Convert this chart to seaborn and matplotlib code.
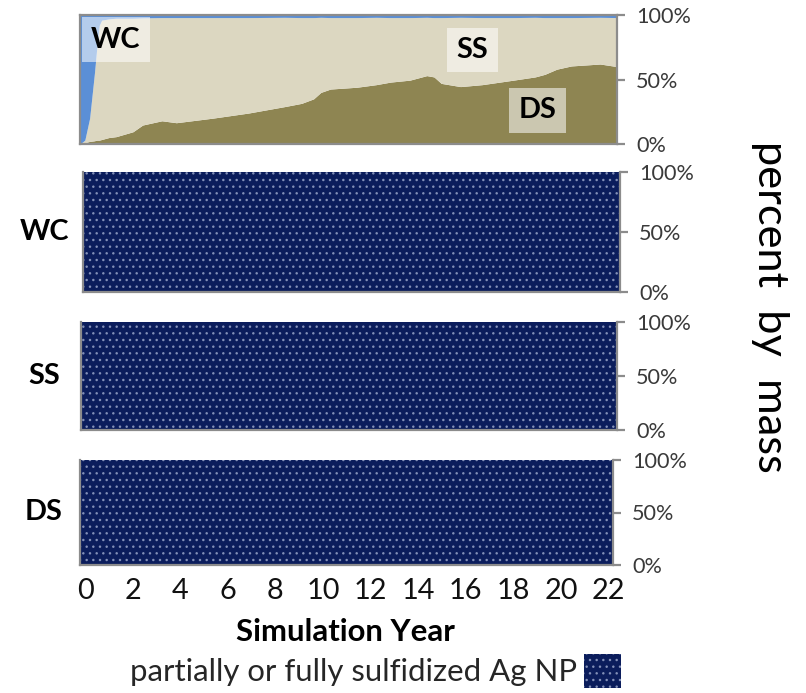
import matplotlib
matplotlib.use("Agg")
import matplotlib.pyplot as plt
from matplotlib.patches import Patch
from matplotlib.transforms import ScaledTranslation
import seaborn as sns

# Compartment mass fractions (percent) of Ag over the simulation
years_top = [0, 0.2, 0.4, 0.6, 0.7, 0.8, 0.9, 1.2, 1.5, 2.2,
             2.6, 3.4, 4.0, 5.5, 7.0, 8.5, 9.2, 9.7, 10.0, 10.4,
             11.5, 12.3, 12.9, 13.7, 14.4, 14.7, 15.0, 15.8, 16.7, 18.0,
             18.9, 19.3, 19.8, 20.4, 21.6, 22.3]
ds_pct = [0, 1, 2, 2.5, 3, 3, 3.5, 5, 5.7, 9.5,
          14.7, 18, 16.5, 20, 24, 29, 31.5, 35, 40, 42.6,
          44, 46, 48, 49.5, 53, 52, 47, 44.5, 46, 49.5,
          52, 54, 58, 60.5, 62, 60]
wc_pct = [100, 97, 80, 45, 25, 8, 4, 3, 2.5, 2.5,
          2.2, 2, 2, 2, 2, 1.8, 2, 2, 1.8, 2,
          2, 1.8, 2, 2, 1.8, 2, 2, 1.8, 2, 2,
          1.8, 2, 2, 2, 1.8, 2]
ss_pct = [100 - d - w for d, w in zip(ds_pct, wc_pct)]

# Speciation within each compartment: all sulfidized
compartments = ["WC", "SS", "DS"]
years_species = [0, 22.35]
sulfidized_pct = [100, 100]
legend_label = "partially or fully sulfidized Ag NP"

xticks = list(range(0, 23, 2))
yticks = [0, 50, 100]
ytick_labels = ["0%", "50%", "100%"]

sns.set_theme(style="white")
plt.rcParams["font.family"] = ["Lato", "DejaVu Sans"]
plt.rcParams["hatch.linewidth"] = 1.0

W, H, DPI = 806, 693, 80
fig = plt.figure(figsize=(W / DPI, H / DPI), dpi=DPI)


def px_axes(x0, y0, x1, y1):
    return fig.add_axes([x0 / W, 1 - y1 / H, (x1 - x0) / W, (y1 - y0) / H])


c_wc, c_ss, c_ds = "#5b8fd6", "#dcd7c1", "#8e8552"
navy, dot = "#0b1d5c", "#8390b8"
spine_c = "#8c8c8c"


def style_right_axis(ax, sides):
    ax.set_ylim(0, 100)
    ax.yaxis.tick_right()
    ax.set_yticks(yticks)
    ax.set_yticklabels(ytick_labels, fontsize=19.5, color="#3a3a3a")
    ax.tick_params(axis="y", direction="out", length=7, width=2,
                   color=spine_c, pad=10)
    for s, sp in ax.spines.items():
        sp.set_visible(s in sides)
        sp.set_color(spine_c)
        sp.set_linewidth(2)


# Top panel: distribution of mass among compartments
ax0 = px_axes(80, 15, 617, 144)
top_ss = [d + s for d, s in zip(ds_pct, ss_pct)]
ax0.fill_between(years_top, 0, ds_pct, color=c_ds, lw=0)
ax0.fill_between(years_top, ds_pct, top_ss, color=c_ss, lw=0)
ax0.fill_between(years_top, top_ss, 100, color=c_wc, lw=0)
ax0.set_xlim(0, 22.3)
ax0.set_xticks([])
style_right_axis(ax0, {"left", "right", "top", "bottom"})
box = dict(boxstyle="square,pad=0.32", fc="white", ec="none", alpha=0.55)
ax0.text(0.45, 81, "WC", fontsize=26, fontweight="bold", color="black",
         va="center", ha="left", bbox=box)
ax0.text(16.3, 73, "SS", fontsize=26, fontweight="bold", color="black",
         va="center", ha="center", bbox=box)
ax0.text(19.0, 26, "DS", fontsize=26, fontweight="bold", color="black",
         va="center", ha="center", bbox=box)

# Lower panels: speciation within each compartment
boxes = [(83, 172, 620, 292), (81, 322, 617, 430), (80, 460, 613, 565)]
axes = []
for name, (x0, y0, x1, y1) in zip(compartments, boxes):
    ax = px_axes(x0, y0, x1, y1)
    ax.fill_between(years_species, 0, sulfidized_pct, facecolor=navy,
                    edgecolor=dot, hatch="..", lw=0)
    ax.set_xlim(0, 22.4)
    style_right_axis(ax, {"left", "right", "bottom"})
    ax.set_xticks(xticks)
    ax.set_xticklabels([])
    ax.tick_params(axis="x", length=0)
    fig.text(44 / W, 1 - ((y0 + y1) / 2) / H, name, fontsize=26,
             fontweight="bold", ha="center", va="center", color="black")
    axes.append(ax)

axb = axes[-1]
axb.set_xticklabels([str(t) for t in xticks], fontsize=26, color="#111111")
axb.tick_params(axis="x", pad=12)
shift = ScaledTranslation(5 / DPI, 0, fig.dpi_scale_trans)
for lab in axb.get_xticklabels():
    lab.set_transform(lab.get_transform() + shift)
axb.set_xlabel("Simulation Year", fontsize=28, fontweight="bold",
               color="black", labelpad=4)
axb.xaxis.set_label_coords(345 / W, 1 - 632 / H, transform=fig.transFigure)
axb.xaxis.label.set_va("center")

fig.text(770 / W, 1 - 307 / H, "percent  by  mass", rotation=-90,
         fontsize=39, ha="center", va="center", color="black")

fig.legend(handles=[Patch(facecolor=navy, edgecolor=dot, hatch="..", lw=0)],
           labels=[legend_label], loc="center right",
           bbox_to_anchor=(621 / W, 1 - 671 / H), frameon=False,
           markerfirst=False, fontsize=28, handlelength=1.2,
           handleheight=1.35, handletextpad=0.2, borderpad=0,
           borderaxespad=0)

fig.savefig("out.png", dpi=DPI)
